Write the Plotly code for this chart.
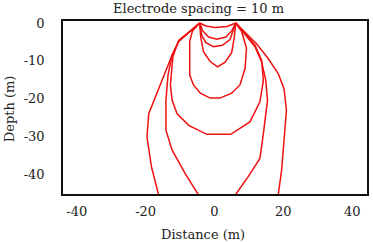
import plotly.graph_objects as go

# Field-line curves (distance m, depth m)
curve_a_x = [-4.3, -2.5, 0.2, 3.6, 6.2]
curve_a_y = [0, -0.8, -1.2, -0.9, 0]

curve_b_x = [-4.3, -3.4, -1.7, 0.7, 3.3, 5.0, 6.2]
curve_b_y = [0, -2.1, -3.7, -4.3, -3.7, -2.1, 0]

curve_c_x = [-4.3, -3.7, -2.5, -0.3, 2.3, 4.5, 6.2]
curve_c_y = [0, -3.3, -5.2, -6.3, -5.9, -4.4, 0]

curve_d_x = [-4.3, -4.0, -3.2, -1.25, 0.9, 3.1, 5.0, 5.7, 6.2]
curve_d_y = [0, -3.7, -7.6, -10.2, -11.6, -10.4, -7.8, -4.1, 0]

curve_e_x = [-4.3, -6.4, -7.2, -7.2, -6.1, -4.1, -1.25, 1.6, 5.0, 7.4, 8.9, 9.3, 7.9, 6.2]
curve_e_y = [0, -2.1, -4.9, -13.8, -16.4, -18.6, -19.9, -19.9, -18.6, -16.4, -12.0, -6.7, -2.3, 0]

curve_f_x = [-4.3, -10.4, -12.1, -12.8, -12.3, -10.9, -7.5, -2.2, 4.7, 10.3, 13.2, 14.2, 13.7, 11.75, 6.2]
curve_f_y = [0, -4.6, -9.0, -16.4, -20.5, -24.0, -27.1, -29.5, -29.5, -26.2, -20.9, -15.2, -9.9, -5.9, 0]

curve_g_x = [-4.3, -10.4, -12.3, -13.5, -14.1, -14.1, -12.3, -8.5, -4.6, -2.5,
             4.0, 6.0, 9.8, 13.2, 14.2, 15.4, 14.9, 13.7, 11.75, 6.2]
curve_g_y = [0, -4.9, -8.5, -13.8, -20.5, -28.4, -33.7, -39.9, -45.6, -50.4,
             -50.4, -45.6, -40.7, -35.9, -29.3, -20.5, -15.2, -10.3, -6.3, 0]

curve_h_x = [-4.3, -10.4, -12.3, -14.7, -17.6, -19.1, -19.6, -18.3, -16.2, -14.3,
             16.6, 18.5, 19.5, 20.4, 20.9, 20.2, 18.5, 15.6, 12.2, 6.2]
curve_h_y = [0, -4.9, -8.5, -13.8, -20.5, -24.0, -30.2, -38.1, -45.6, -50.4,
             -50.4, -45.6, -39.0, -29.3, -23.1, -17.4, -13.4, -9.4, -5.5, 0]

curves = [
    (curve_a_x, curve_a_y), (curve_b_x, curve_b_y), (curve_c_x, curve_c_y),
    (curve_d_x, curve_d_y), (curve_e_x, curve_e_y), (curve_f_x, curve_f_y),
    (curve_g_x, curve_g_y), (curve_h_x, curve_h_y),
]

x_ticks = [-40, -20, 0, 20, 40]
y_ticks = [0, -10, -20, -30, -40]

FONT = "DejaVu Serif"
TXT = "#222222"

fig = go.Figure()
for cx, cy in curves:
    fig.add_trace(go.Scatter(x=cx, y=cy, mode="lines",
                             line=dict(color="#f01010", width=1.5),
                             showlegend=False, hoverinfo="skip"))

fig.update_layout(
    width=373, height=242,
    margin=dict(l=63, r=4, t=21, b=48),
    paper_bgcolor="white", plot_bgcolor="white",
    font=dict(family=FONT, size=14, color=TXT),
    annotations=[
        dict(text="Electrode spacing = 10 m", xref="paper", yref="paper",
             x=0.447, y=1.0, yanchor="middle", xanchor="center", yshift=13,
             showarrow=False, font=dict(family=FONT, size=13, color=TXT)),
        dict(text="Distance (m)", xref="paper", yref="paper",
             x=0.46, y=0, yanchor="middle", xanchor="center", yshift=-40,
             showarrow=False, font=dict(family=FONT, size=13, color=TXT)),
        dict(text="Depth (m)", xref="paper", yref="paper",
             x=0, xshift=-54, y=0.49, xanchor="center", yanchor="middle",
             showarrow=False, textangle=-90,
             font=dict(family=FONT, size=13, color=TXT)),
    ],
)
fig.update_xaxes(range=[-44.0, 44.3], tickvals=x_ticks, ticktext=[str(v) for v in x_ticks],
                 showgrid=False, zeroline=False, showline=True, mirror=True,
                 linecolor="#111111", linewidth=1.5, ticks="", ticklabelstandoff=5,
                 tickfont=dict(family=FONT, size=13, color=TXT))
fig.update_yaxes(range=[-45.3, 0.53], tickvals=y_ticks, ticktext=[str(v) for v in y_ticks],
                 showgrid=False, zeroline=False, showline=True, mirror=True,
                 linecolor="#111111", linewidth=1.5, ticks="", ticklabelstandoff=14,
                 tickfont=dict(family=FONT, size=13, color=TXT))

fig.write_html("out.html")
